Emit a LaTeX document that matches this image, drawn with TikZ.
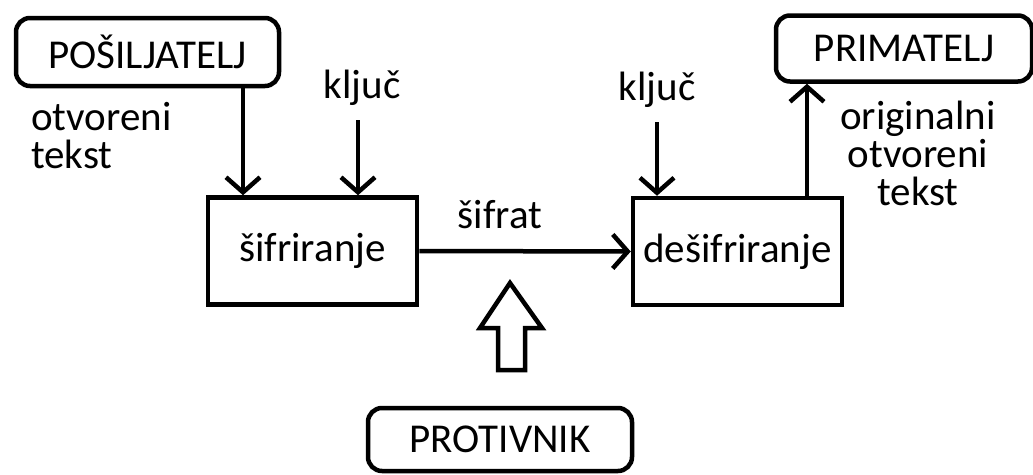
\documentclass[tikz,border=0pt]{standalone}
\usepackage{fontspec}
\setmainfont{Carlito}
\usetikzlibrary{arrows.meta}

\tikzset{
    party/.style={draw, line width=4.5pt, rounded corners=14pt, inner sep=0pt, font=\fontsize{41}{42}\selectfont},
    stage/.style={draw, line width=4.5pt, inner sep=0pt, minimum width=209pt, minimum height=107pt, font=\fontsize{41}{42}\selectfont},
    note/.style={inner sep=0pt, font=\fontsize{41}{38}\selectfont},
    flow/.style={line width=4.5pt, -{Straight Barb[length=15pt,width=34pt]}}
}

\begin{document}
\begin{tikzpicture}[x=1pt, y=-1pt]
    \useasboundingbox (0,0) rectangle (1033,474);
    % the three parties
    \node[party, minimum width=263pt, minimum height=68pt] (send) at (147.5,52) {POŠILJATELJ};
    \node[party, minimum width=256pt, minimum height=66pt] (recv) at (904,48.5) {PRIMATELJ};
    \node[party, minimum width=264pt, minimum height=63pt] (adv) at (500,439.5) {PROTIVNIK};
    % encryption and decryption
    \node[stage] (enc) at (312.5,251) {šifriranje};
    \node[stage] (dec) at (737.5,251.5) {dešifriranje};
    % labels
    \node[note, anchor=west, align=left] (ptext) at (31,136) {otvoreni\\tekst};
    \node[note] (key1) at (362,88) {ključ};
    \node[note] (key2) at (657,90) {ključ};
    \node[note] (ctext) at (500,215) {šifrat};
    \node[note, align=center] (otext) at (918,153) {originalni\\otvoreni\\tekst};
    % arrows
    \coordinate (s1) at (243,0);
    \coordinate (k1) at (358,120);
    \coordinate (k2) at (657,122);
    \coordinate (r1) at (807,0);
    \draw[flow] (s1 |- send.south) -- (s1 |- enc.north);
    \draw[flow] (k1) -- (k1 |- enc.north);
    \draw[flow] (enc.east) -- (dec.west);
    \draw[flow] (k2) -- (k2 |- dec.north);
    \draw[flow] (r1 |- dec.north) -- (r1 |- recv.south);
    % hollow arrow from the adversary
    \draw[line width=4.5pt, line join=miter] (498,370) -- (498,328) -- (480,328) -- (510,283) -- (542,328) -- (525,328) -- (525,370) -- cycle;
\end{tikzpicture}
\end{document}
